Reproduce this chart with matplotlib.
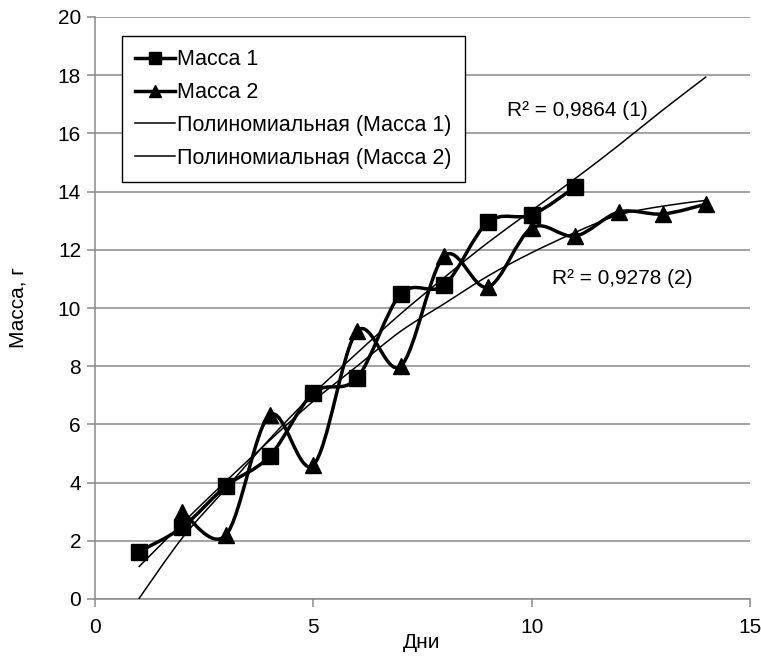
import numpy as np
import matplotlib
matplotlib.use("Agg")
import matplotlib.pyplot as plt
from matplotlib.path import Path
from matplotlib.patches import PathPatch
from matplotlib.lines import Line2D

plt.rcParams['font.family'] = ['Liberation Sans', 'DejaVu Sans']

# ---- data ----
days1 = [1, 2, 3, 4, 5, 6, 7, 8, 9, 10, 11]
mass1 = [1.62, 2.47, 3.88, 4.91, 7.08, 7.59, 10.48, 10.79, 12.95, 13.2, 14.16]

days2 = [2, 3, 4, 5, 6, 7, 8, 9, 10, 11, 12, 13, 14]
mass2 = [2.99, 2.2, 6.32, 4.6, 9.2, 8.0, 11.79, 10.72, 12.75, 12.47, 13.3, 13.23, 13.57]

trend_days = [1, 2, 3, 4, 5, 6, 7, 8, 9, 10, 11, 12, 13, 14]
trend1 = [0.0, 2.1, 3.8, 5.5, 7.05, 8.45, 9.8, 11.05, 12.25, 13.35, 14.45, 15.6, 16.8, 17.95]
trend2 = [1.1, 2.6, 4.05, 5.45, 6.8, 8.0, 9.2, 10.15, 11.1, 11.9, 12.6, 13.2, 13.5, 13.7]

r2_labels = ["R² = 0,9864 (1)", "R² = 0,9278 (2)"]
legend_labels = ["Масса 1", "Масса 2", "Полиномиальная (Масса 1)", "Полиномиальная (Масса 2)"]
xlabel = "Дни"
ylabel = "Масса, г"

FS = 15


def smooth_path(xs, ys):
    """Excel-like smoothed line: Catmull-Rom converted to cubic Bezier."""
    p = np.column_stack([xs, ys]).astype(float)
    n = len(p)
    verts = [p[0]]
    codes = [Path.MOVETO]
    for i in range(n - 1):
        p0 = p[i - 1] if i > 0 else p[i]
        p1 = p[i]
        p2 = p[i + 1]
        p3 = p[i + 2] if i + 2 < n else p[i + 1]
        c1 = p1 + (p2 - p0) / 6.0
        c2 = p2 - (p3 - p1) / 6.0
        verts += [c1, c2, p2]
        codes += [Path.CURVE4] * 3
    return Path(verts, codes)


fig = plt.figure(figsize=(7.61, 6.59), dpi=100)
ax = fig.add_axes([95 / 761, 60 / 659, 655 / 761, 582 / 659])

ax.set_xlim(0, 15)
ax.set_ylim(0, 20)
ax.set_xticks([0, 5, 10, 15])
ax.set_yticks(np.arange(0, 21, 2))

grid_col = '#8a8a8a'
ax.yaxis.grid(True, color=grid_col, linewidth=1.1)
ax.set_axisbelow(True)
for s in ['top', 'right']:
    ax.spines[s].set_visible(False)
for s in ['left', 'bottom']:
    ax.spines[s].set_color(grid_col)
    ax.spines[s].set_linewidth(1.1)
ax.tick_params(axis='both', direction='out', length=6, width=1.1, color=grid_col,
               labelsize=FS, labelcolor='black')
ax.tick_params(axis='y', pad=4)
ax.tick_params(axis='x', pad=8)

# series with smoothed lines
lw_thick = 2.5
lw_thin = 1.1
for xs, ys in [(days1, mass1), (days2, mass2)]:
    ax.add_patch(PathPatch(smooth_path(xs, ys), fill=False, edgecolor='black',
                           linewidth=lw_thick, zorder=3))
ax.plot(days1, mass1, linestyle='none', marker='s', markersize=11, color='black', zorder=4)
ax.plot(days2, mass2, linestyle='none', marker='^', markersize=11, color='black', zorder=4)

# trend lines
for ys in [trend1, trend2]:
    ax.add_patch(PathPatch(smooth_path(trend_days, ys), fill=False, edgecolor='black',
                           linewidth=lw_thin, zorder=3))

ax.text(9.43, 16.8, r2_labels[0], fontsize=FS, ha='left', va='center')
ax.text(10.46, 11.03, r2_labels[1], fontsize=FS, ha='left', va='center')

ax.set_xlabel(xlabel, fontsize=FS)
ax.set_ylabel(ylabel, fontsize=FS)
ax.xaxis.set_label_coords((422 - 95) / 655, (599 - 643) / 582)
ax.xaxis.label.set_va('center')
ax.yaxis.set_label_coords((18 - 95) / 655, 0.5)
ax.yaxis.label.set_va('center')

handles = [
    Line2D([], [], color='black', linewidth=lw_thick, marker='s', markersize=8),
    Line2D([], [], color='black', linewidth=lw_thick, marker='^', markersize=8),
    Line2D([], [], color='black', linewidth=lw_thin),
    Line2D([], [], color='black', linewidth=lw_thin),
]
leg = ax.legend(handles, legend_labels, loc='upper left',
                bbox_to_anchor=((122 - 95) / 655, (599 - 36) / 582),
                borderaxespad=0, fontsize=15.5, frameon=True, fancybox=False,
                edgecolor='black', framealpha=1, handlelength=1.85,
                handletextpad=0.1, labelspacing=0.55, borderpad=0.62)
leg.get_frame().set_linewidth(1.0)

fig.savefig("out.png", dpi=100)
